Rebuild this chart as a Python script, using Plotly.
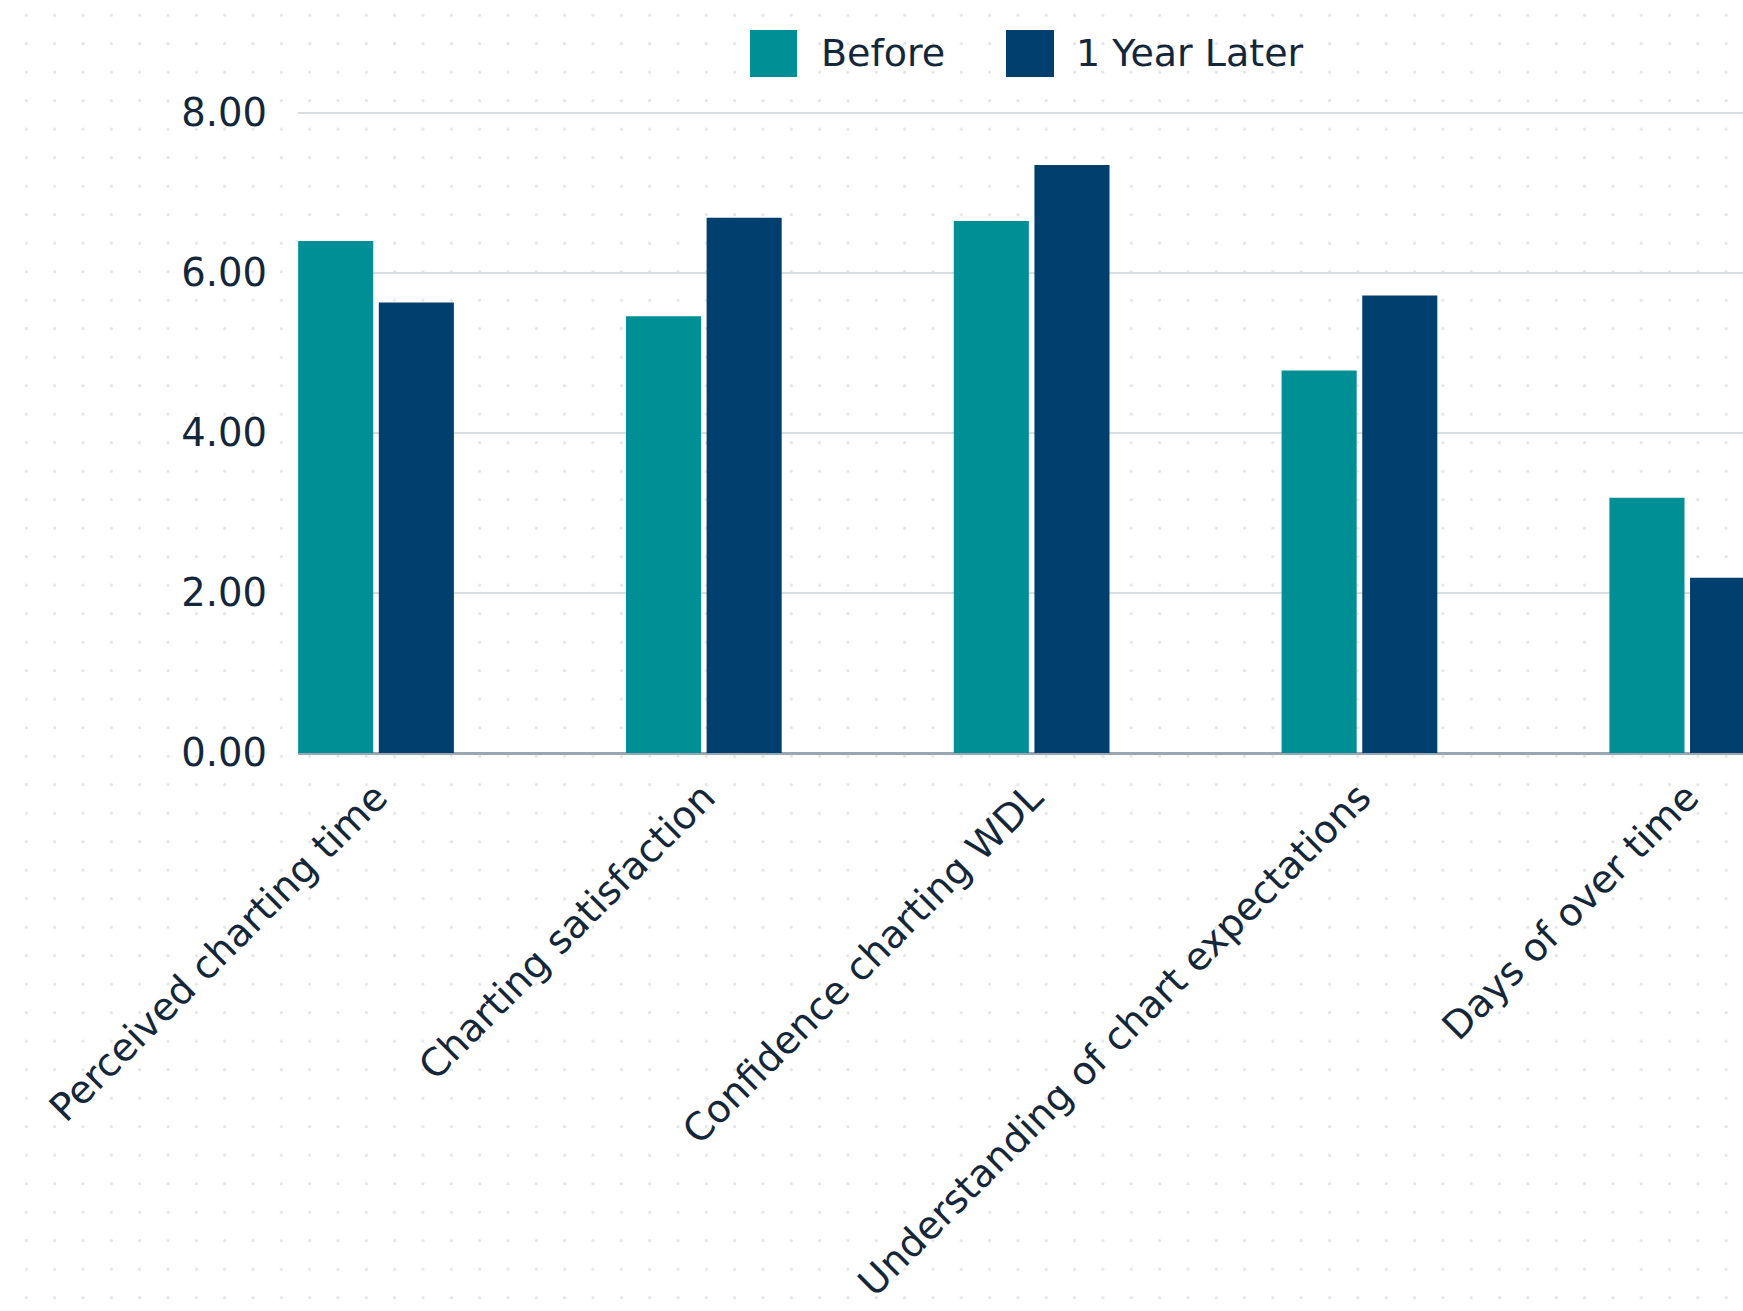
import base64
import plotly.graph_objects as go

categories = [
    "Perceived charting time",
    "Charting satisfaction",
    "Confidence charting WDL",
    "Understanding of chart expectations",
    "Days of over time",
]
before = [6.40, 5.46, 6.65, 4.78, 3.19]
after = [5.63, 6.69, 7.35, 5.72, 2.19]
series_names = ["Before", "1 Year Later"]
y_ticks = [0, 2, 4, 6, 8]

W, H = 1743, 1311
ML, MR, MT, MB = 298, 0, 111, 558
PW, PH = W - ML - MR, H - MT - MB

TEAL = "#008F94"
NAVY = "#003F6E"
TXT = "#14273A"
FONT = "DejaVu Sans"


def px_x(px):
    return (px - ML) / PW


def px_y(py):
    return (H - MB - py) / PH


fig = go.Figure()
fig.add_trace(go.Bar(x=categories, y=before, name=series_names[0],
                     marker=dict(color=TEAL, line=dict(width=0))))
fig.add_trace(go.Bar(x=categories, y=after, name=series_names[1],
                     marker=dict(color=NAVY, line=dict(width=0))))

# dotted background
svg = (
    f"<svg xmlns='http://www.w3.org/2000/svg' width='{W}' height='{H}'>"
    "<defs><pattern id='p' x='24.8' y='13.6' width='28.33' height='28.5' patternUnits='userSpaceOnUse'>"
    "<circle cx='1.6' cy='1.6' r='1.6' fill='#E2E5E9'/></pattern></defs>"
    "<rect width='100%' height='100%' fill='url(#p)'/></svg>"
)
src = "data:image/svg+xml;base64," + base64.b64encode(svg.encode()).decode()

fig.update_layout(
    width=W, height=H,
    margin=dict(l=ML, r=MR, t=MT, b=MB, pad=0, autoexpand=False),
    paper_bgcolor="white",
    plot_bgcolor="rgba(0,0,0,0)",
    barmode="group",
    bargap=0.508,
    bargroupgap=0.069,
    showlegend=False,
    font=dict(family=FONT, color=TXT, size=38),
    images=[dict(source=src, xref="paper", yref="paper",
                 x=-ML / PW, y=1 + MT / PH, sizex=W / PW, sizey=H / PH,
                 xanchor="left", yanchor="top", sizing="stretch", layer="below")],
    xaxis=dict(
        type="category",
        range=[-0.238, 4.17],
        tickangle=-45,
        tickfont=dict(family=FONT, size=38.5, color=TXT),
        showgrid=False, showline=False, ticks="",
        ticklabelstandoff=13,
        automargin=False,
    ),
    yaxis=dict(
        range=[0, 8.025],
        tickvals=y_ticks,
        tickformat=".2f",
        tickfont=dict(family=FONT, size=38.5, color=TXT),
        showgrid=True, gridcolor="#D8DDE1", gridwidth=1.5,
        zeroline=True, zerolinecolor="#9AA6B0", zerolinewidth=3,
        showline=False, ticks="",
        ticklabelstandoff=30,
        automargin=False,
    ),
)

# manual legend
legend_items = [
    (series_names[0], TEAL, 750, 797, 819),
    (series_names[1], NAVY, 1006, 1054, 1074),
]
for name, col, x0, x1, tx in legend_items:
    fig.add_shape(type="rect", xref="paper", yref="paper",
                  x0=px_x(x0), x1=px_x(x1), y0=px_y(77), y1=px_y(30),
                  fillcolor=col, line=dict(width=0))
    fig.add_annotation(text=name, xref="paper", yref="paper",
                       x=px_x(tx), y=px_y(53), xanchor="left", yanchor="middle",
                       showarrow=False, font=dict(family=FONT, size=38, color=TXT))

fig.write_html("out.html")
